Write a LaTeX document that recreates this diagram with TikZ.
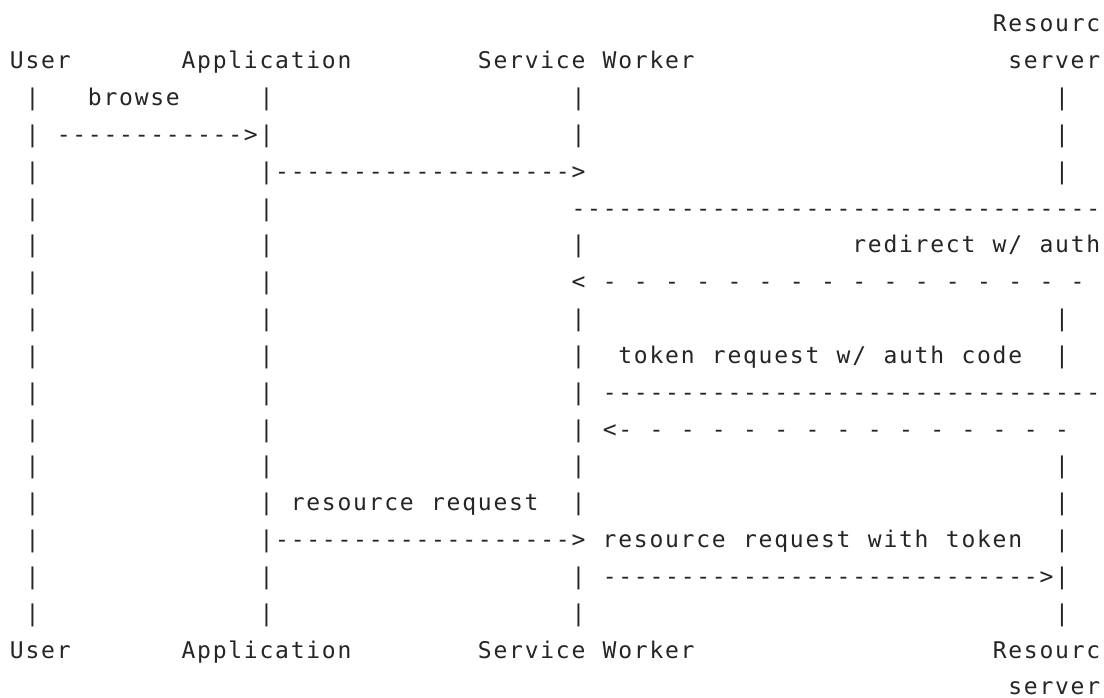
\documentclass[tikz,border=0pt]{standalone}
\usepackage{fontspec}
\newfontfamily\asciifont{DejaVu Sans Mono}
\definecolor{ink}{HTML}{252525}
\newlength\cw
\setlength\cw{15.6pt}
\makeatletter
\def\gridline#1{\grid@loop#1\relax}
\def\grid@loop#1{\ifx#1\relax\else\makebox[\cw][c]{#1}\expandafter\grid@loop\fi}
\def\gridat#1#2{\makebox[0pt][l]{\hspace*{#1\cw}\gridline{#2}}}
\makeatother
\tikzset{asciiline/.style={anchor=base west, inner sep=0pt, outer sep=0pt, text=ink, font=\asciifont\fontsize{23}{23}\selectfont}}
\begin{document}
\begin{tikzpicture}[x=1pt,y=-1pt]
\fill[white] (0,0) rectangle (1104,698);
\useasboundingbox (0,0) rectangle (1104,698);
\node[asciiline] (l1) at (8.6,32) {\gridat{63}{Resourc}};
\node[asciiline] (l2) at (8.6,68.83) {\gridat{0}{User}\gridat{11}{Application}\gridat{30}{Service~Worker}\gridat{64}{server}};
\node[asciiline] (l3) at (8.6,105.66) {\gridat{1}{|}\gridat{5}{browse}\gridat{16}{|}\gridat{36}{|}\gridat{67}{|}};
\node[asciiline] (l4) at (8.6,142.49) {\gridat{1}{|}\gridat{3}{------------>|}\gridat{36}{|}\gridat{67}{|}};
\node[asciiline] (l5) at (8.6,179.32) {\gridat{1}{|}\gridat{16}{|------------------->}\gridat{67}{|}};
\node[asciiline] (l6) at (8.6,216.15) {\gridat{1}{|}\gridat{16}{|}\gridat{36}{----------------------------------}};
\node[asciiline] (l7) at (8.6,252.98) {\gridat{1}{|}\gridat{16}{|}\gridat{36}{|}\gridat{54}{redirect~w/~auth}};
\node[asciiline] (l8) at (8.6,289.81) {\gridat{1}{|}\gridat{16}{|}\gridat{36}{<~-~-~-~-~-~-~-~-~-~-~-~-~-~-~-~-}};
\node[asciiline] (l9) at (8.6,326.64) {\gridat{1}{|}\gridat{16}{|}\gridat{36}{|}\gridat{67}{|}};
\node[asciiline] (l10) at (8.6,363.47) {\gridat{1}{|}\gridat{16}{|}\gridat{36}{|}\gridat{39}{token~request~w/~auth~code}\gridat{67}{|}};
\node[asciiline] (l11) at (8.6,400.3) {\gridat{1}{|}\gridat{16}{|}\gridat{36}{|}\gridat{38}{--------------------------------}};
\node[asciiline] (l12) at (8.6,437.13) {\gridat{1}{|}\gridat{16}{|}\gridat{36}{|}\gridat{38}{<-~-~-~-~-~-~-~-~-~-~-~-~-~-~-}};
\node[asciiline] (l13) at (8.6,473.96) {\gridat{1}{|}\gridat{16}{|}\gridat{36}{|}\gridat{67}{|}};
\node[asciiline] (l14) at (8.6,510.79) {\gridat{1}{|}\gridat{16}{|}\gridat{18}{resource~request}\gridat{36}{|}\gridat{67}{|}};
\node[asciiline] (l15) at (8.6,547.62) {\gridat{1}{|}\gridat{16}{|------------------->}\gridat{38}{resource~request~with~token}\gridat{67}{|}};
\node[asciiline] (l16) at (8.6,584.45) {\gridat{1}{|}\gridat{16}{|}\gridat{36}{|}\gridat{38}{---------------------------->|}};
\node[asciiline] (l17) at (8.6,621.28) {\gridat{1}{|}\gridat{16}{|}\gridat{36}{|}\gridat{67}{|}};
\node[asciiline] (l18) at (8.6,658.11) {\gridat{0}{User}\gridat{11}{Application}\gridat{30}{Service~Worker}\gridat{63}{Resourc}};
\node[asciiline] (l19) at (8.6,694.94) {\gridat{64}{server}};
\end{tikzpicture}
\end{document}
